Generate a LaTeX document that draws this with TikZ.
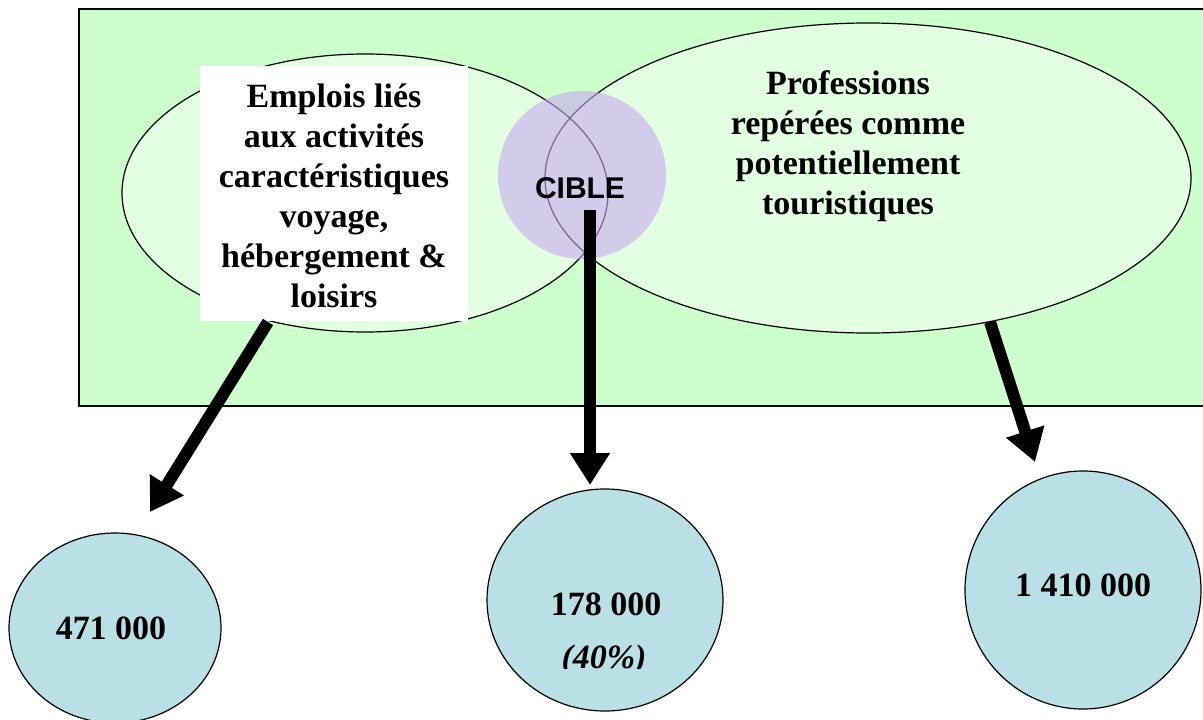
\documentclass[tikz,border=0pt]{standalone}
\usepackage{fontspec}
\setmainfont{Liberation Serif}
\newfontfamily\arialf{Liberation Sans}
\usetikzlibrary{arrows.meta,shapes.geometric}
\definecolor{bggreen}{RGB}{204,255,204}
\definecolor{elgreen}{RGB}{226,255,226}
\definecolor{cibfill}{RGB}{200,170,240}
\definecolor{circfill}{RGB}{185,224,228}
\tikzset{
  bigarrow/.style={line width=12pt,-{Triangle[width=38pt,length=32pt]}},
  numcirc/.style={draw=black,line width=1.2pt,fill=circfill},
  lbl/.style={font=\fontsize{34}{40}\selectfont\bfseries,align=center},
  numtxt/.style={font=\fontsize{34}{40}\selectfont\bfseries},
}
\begin{document}
\begin{tikzpicture}[x=1pt,y=-1pt]
\useasboundingbox (0,0) rectangle (1203,720);
% background box
\node[draw=black,line width=1.5pt,fill=bggreen,minimum width=1125pt,minimum height=397pt,inner sep=0pt,anchor=north west] (box) at (78,8) {};
% ellipse fills
\fill[elgreen] (365,193) ellipse [x radius=243, y radius=139];
\fill[elgreen] (868,178) ellipse [x radius=323, y radius=155];
% ellipse outlines
\draw[line width=1.2pt] (365,193) ellipse [x radius=243, y radius=139];
\draw[line width=1.2pt] (868,178) ellipse [x radius=323, y radius=155];
\coordinate (eL) at (268,322);
\coordinate (eR) at (990,322);
% white label box
\node[fill=white,minimum width=268pt,minimum height=255pt,inner sep=0pt,anchor=north west] (wbox) at (200,66) {};
\node[lbl] (ltext) at (334,196) {Emplois liés\\aux activités\\caractéristiques\\voyage,\\hébergement \&\\loisirs};
\node[lbl] (rtext) at (848,146) {Professions\\repérées comme\\potentiellement\\touristiques};
% target circle
\node[circle,fill=cibfill,fill opacity=0.6,minimum size=168pt,inner sep=0pt] (cible) at (582,175) {};
\node[font=\arialf\bfseries\fontsize{30}{34}\selectfont] (cibletext) at (580,188) {CIBLE};
\coordinate (eM) at (590,210);
% number circles
\node[numcirc,ellipse,minimum width=212pt,minimum height=190pt,inner sep=0pt] (c1) at (115,628) {};
\node[numcirc,ellipse,minimum width=236pt,minimum height=222pt,inner sep=0pt] (c2) at (605,600) {};
\node[numcirc,ellipse,minimum width=236pt,minimum height=238pt,inner sep=0pt] (c3) at (1083,590) {};
\node[numtxt] (t1) at (111,628) {471 000};
\node[numtxt] (t2) at (606,604) {178 000};
\begin{scope}
\clip (530,635) rectangle (680,668);
\node[numtxt,font=\fontsize{34}{40}\selectfont\bfseries\itshape] (t2b) at (604,660) {(40\%)};
\end{scope}
\node[numtxt] (t3) at (1083,585) {1 410 000};
% arrows
\coordinate (a1) at (150,512);
\coordinate (a2) at (590,485);
\coordinate (a3) at (1035,462);
\draw[bigarrow] (eL) -- (a1);
\draw[bigarrow] (eM) -- (a2);
\draw[bigarrow] (eR) -- (a3);
\end{tikzpicture}
\end{document}
